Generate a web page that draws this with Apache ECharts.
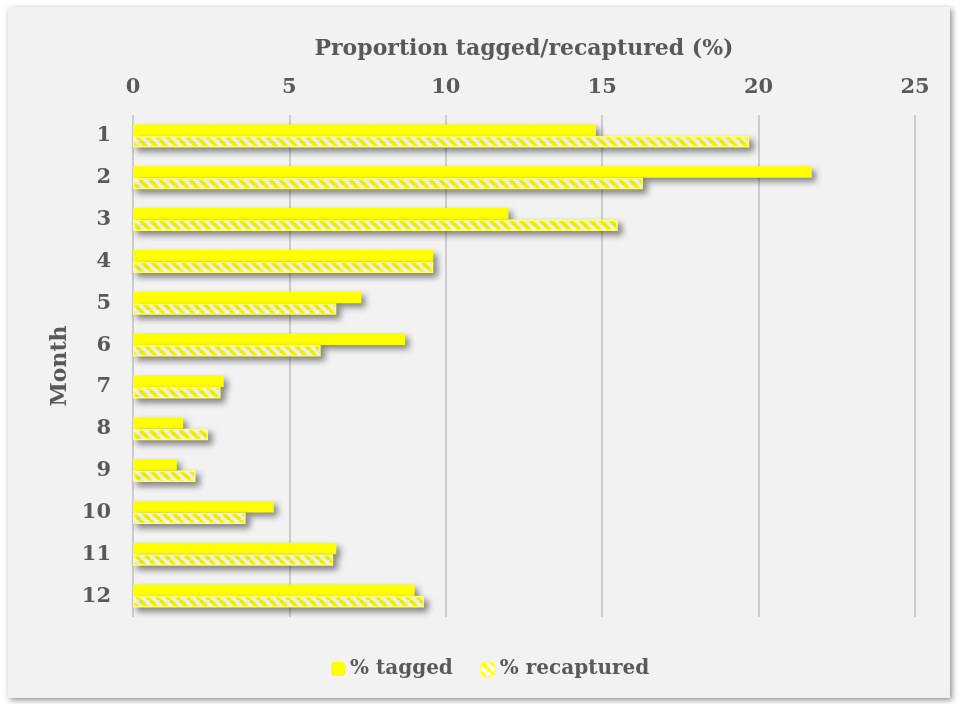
<!DOCTYPE html>
<html>
<head>
<meta charset="utf-8">
<style>
  html, body { margin: 0; padding: 0; background: #ffffff; }
  #chart { width: 962px; height: 704px; }
</style>
<script src="https://cdn.jsdelivr.net/npm/echarts@6/dist/echarts.min.js"></script>
</head>
<body>
<div id="chart"></div>
<script>
// Monthly proportions of fish tagged and recaptured
const months = ['1', '2', '3', '4', '5', '6', '7', '8', '9', '10', '11', '12'];
const pctTagged = [14.8, 21.7, 12.0, 9.6, 7.3, 8.7, 2.9, 1.6, 1.4, 4.5, 6.5, 9.0];
const pctRecaptured = [19.7, 16.3, 15.5, 9.6, 6.5, 6.0, 2.8, 2.4, 2.0, 3.6, 6.4, 9.3];
const axisTicks = [0, 5, 10, 15, 20, 25];

const textColor = '#595959';
const fontFamily = '"DejaVu Serif", "Liberation Serif", serif';

// wide downward-diagonal stripes, yellow on white
function stripePattern() {
  const size = 10;
  const c = document.createElement('canvas');
  c.width = size; c.height = size;
  const ctx = c.getContext('2d');
  ctx.fillStyle = '#ffffff';
  ctx.fillRect(0, 0, size, size);
  ctx.strokeStyle = '#ffff00';
  ctx.lineWidth = 3.4;
  for (let k = -1; k <= 1; k++) {
    ctx.beginPath();
    ctx.moveTo(k * size, 0);
    ctx.lineTo(k * size + size, size);
    ctx.stroke();
  }
  return c;
}

const chart = echarts.init(document.getElementById('chart'), null, { renderer: 'canvas' });

const barShadow = {
  shadowBlur: 6,
  shadowOffsetX: 4,
  shadowOffsetY: 4,
  shadowColor: 'rgba(0,0,0,0.45)'
};

chart.setOption({
  backgroundColor: '#ffffff',
  animation: false,
  graphic: [{
    type: 'rect',
    left: 8, top: 7,
    shape: { width: 942, height: 691 },
    style: {
      fill: '#f2f2f2',
      shadowBlur: 6,
      shadowOffsetX: 2,
      shadowOffsetY: 2,
      shadowColor: 'rgba(0,0,0,0.45)'
    },
    z: -10
  }],
  grid: { left: 133, right: 47, top: 115, bottom: 87, containLabel: false },
  legend: {
    bottom: 20,
    left: 326,
    itemWidth: 14,
    itemHeight: 14,
    itemGap: 27,
    textStyle: { color: textColor, fontFamily, fontWeight: 'bold', fontSize: 20 },
    data: ['% tagged', '% recaptured']
  },
  xAxis: {
    type: 'value',
    position: 'top',
    min: axisTicks[0],
    max: axisTicks[axisTicks.length - 1],
    interval: axisTicks[1] - axisTicks[0],
    name: 'Proportion tagged/recaptured (%)',
    nameLocation: 'middle',
    nameGap: 55,
    nameTextStyle: { color: textColor, fontFamily, fontWeight: 'bold', fontSize: 22 },
    axisLine: { show: false },
    axisTick: { show: false },
    axisLabel: { color: textColor, fontFamily, fontWeight: 'bold', fontSize: 21, margin: 17 },
    splitLine: { show: true, lineStyle: { color: '#bfbfbf', width: 1.5 } }
  },
  yAxis: {
    type: 'category',
    inverse: true,
    data: months,
    name: 'Month',
    nameLocation: 'middle',
    nameGap: 60,
    nameRotate: 90,
    nameTextStyle: { color: textColor, fontFamily, fontWeight: 'bold', fontSize: 22 },
    axisLine: { show: false },
    axisTick: { show: false },
    axisLabel: { color: textColor, fontFamily, fontWeight: 'bold', fontSize: 21, margin: 22, padding: [4, 0, 0, 0] }
  },
  series: [
    {
      name: '% tagged',
      type: 'bar',
      data: pctTagged,
      barWidth: 11.5,
      barGap: '0%',
      itemStyle: Object.assign({ color: '#ffff00' }, barShadow)
    },
    {
      name: '% recaptured',
      type: 'bar',
      data: pctRecaptured,
      barWidth: 11.5,
      barGap: '0%',
      itemStyle: Object.assign({
        color: { image: stripePattern(), repeat: 'repeat' },
        borderColor: '#ffff66',
        borderWidth: 1.5
      }, barShadow)
    }
  ]
});
</script>
</body>
</html>
